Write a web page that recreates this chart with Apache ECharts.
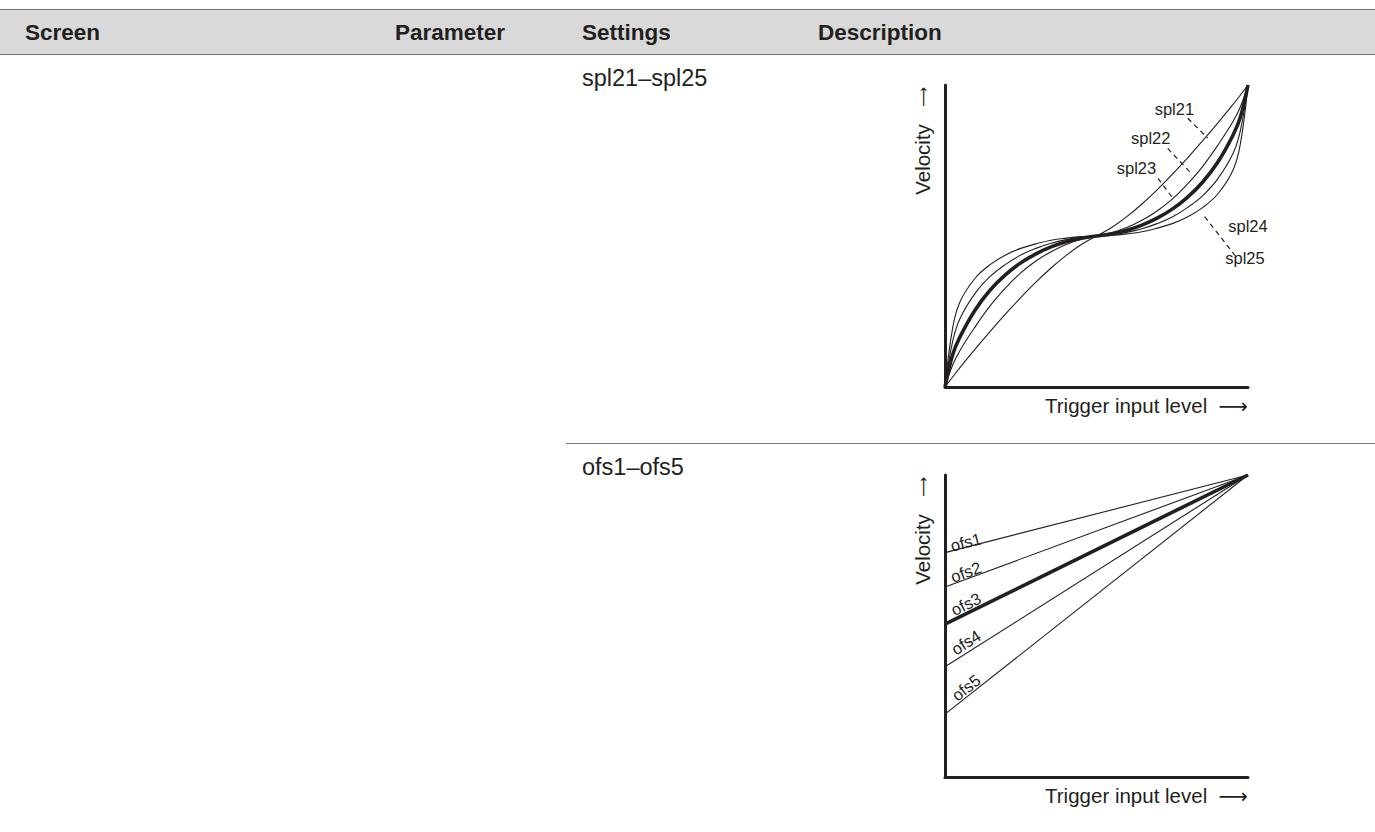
<!DOCTYPE html>
<html>
<head>
<meta charset="utf-8">
<script src="https://cdn.jsdelivr.net/npm/echarts@6/dist/echarts.min.js"></script>
<style>
  html, body { margin: 0; padding: 0; background: #fff; }
  body { width: 1375px; height: 832px; position: relative; overflow: hidden; font-family: 'Liberation Sans', Arial, sans-serif; color: #231f20; }
  #chart { position: absolute; left: 0; top: 0; width: 1375px; height: 832px; }
  .head { position: absolute; left: 0; top: 9px; width: 1375px; height: 44px; background: #d9d9d9; border-top: 1.5px solid #6f6f6f; border-bottom: 1.5px solid #6f6f6f; }
  .th { position: absolute; top: 21.5px; font-weight: bold; font-size: 22.5px; line-height: 22.5px; }
  .td { position: absolute; left: 582px; font-size: 23.5px; line-height: 23.5px; }
  .rule { position: absolute; left: 566px; width: 809px; top: 443px; border-top: 1.5px solid #7a7a7a; }
</style>
</head>
<body>
<div id="chart"></div>
<div class="head"></div>
<div class="th" style="left:25px">Screen</div>
<div class="th" style="left:395px">Parameter</div>
<div class="th" style="left:582px">Settings</div>
<div class="th" style="left:818px">Description</div>
<div class="td" style="top:66.5px">spl21–spl25</div>
<div class="rule"></div>
<div class="td" style="top:455.5px">ofs1–ofs5</div>

<script>
const ink = '#231f20'
const fontFamily = "'Liberation Sans', 'DejaVu Sans', Arial, sans-serif"

// trigger input level (x) shared by the spl curves, % of range
const triggerLevel = [0, 2.5, 5, 10, 15, 20, 25, 30, 35, 40, 45, 50, 55, 60, 65, 70, 75, 80, 85, 90, 95, 97.5, 100]

// velocity (y) for each spl curve
const spl21 = [0, 3.3, 6.5, 12.6, 18.5, 24.2, 29.6, 34.7, 39.4, 43.6, 47.2, 50, 52.8, 56.4, 60.6, 65.3, 70.4, 75.8, 81.5, 87.4, 93.5, 96.7, 100]
const spl22 = [0, 7.2, 12.2, 20.0, 27.0, 32.8, 37.8, 41.7, 44.8, 47.2, 48.9, 50, 51.1, 52.8, 55.2, 58.3, 62.2, 67.2, 73.0, 80.0, 87.8, 92.8, 100]
const spl23 = [0, 10.6, 16.7, 25.6, 32.2, 37.2, 41.1, 44.1, 46.4, 48.1, 49.3, 50, 50.7, 51.9, 53.6, 55.9, 58.9, 62.8, 67.8, 74.4, 83.3, 89.4, 100]
const spl24 = [0, 15.0, 22.8, 31.1, 36.7, 40.6, 43.7, 45.9, 47.6, 48.8, 49.6, 50, 50.4, 51.2, 52.4, 54.1, 56.3, 59.4, 63.3, 68.9, 77.2, 85.0, 100]
const spl25 = [0, 19.4, 28.3, 36.1, 40.6, 43.7, 45.9, 47.4, 48.6, 49.3, 49.8, 50, 50.2, 50.7, 51.4, 52.6, 54.1, 56.3, 59.4, 63.9, 71.7, 80.6, 100]

// offset lines: trigger level 0 and 100
const ofsLevel = [0, 100]
const ofs1 = [74.3, 100]
const ofs2 = [62.9, 100]
const ofs3 = [50.6, 100]
const ofs4 = [36.5, 100]
const ofs5 = [20.8, 100]

const splNames = ['spl21', 'spl22', 'spl23', 'spl24', 'spl25']
const ofsNames = ['ofs1', 'ofs2', 'ofs3', 'ofs4', 'ofs5']

// annotation anchors, in axis units
const splLabelAt = [[75.7, 92.0], [67.9, 82.3], [63.2, 72.4], [100.0, 53.3], [99.0, 42.7]]
const splLeaders = [
  [[80.1, 89.0], [86.7, 82.4]],
  [[73.5, 79.0], [81.2, 70.8]],
  [[70.3, 69.1], [75.2, 62.5]],
  [[89.9, 67.4], [100.1, 57.5]],
  [[85.7, 56.4], [95.6, 43.7]]
]
const ofsLabelAt = [[6.9, 77.8], [6.9, 67.9], [6.9, 57.3], [6.9, 44.6], [6.9, 29.6]]

const grids = [
  { left: 945, top: 85, width: 303, height: 302 },
  { left: 945, top: 475, width: 303, height: 302 }
]

const axisBase = {
  type: 'value',
  min: 0,
  max: 100,
  axisTick: { show: false },
  axisLabel: { show: false },
  splitLine: { show: false },
  axisLine: { show: true, onZero: false, lineStyle: { color: ink, width: 3 } }
}

const xAxes = grids.map((g, i) => ({
  ...axisBase,
  gridIndex: i,
  name: 'Trigger input level\u00A0\u00A0\u27F6',
  nameLocation: 'end',
  nameGap: 0,
  nameTextStyle: { color: ink, fontSize: 20.5, fontFamily, align: 'right', verticalAlign: 'top', padding: [8, 0, 0, 0] }
}))

const yAxes = grids.map((g, i) => ({
  ...axisBase,
  gridIndex: i,
  name: '{t|Velocity\u00A0\u00A0\u00A0}{a|\u27F6}',
  nameLocation: 'end',
  nameRotate: 90,
  nameGap: -2,
  nameTextStyle: {
    color: ink, fontSize: 20.5, fontFamily, align: 'right', verticalAlign: 'bottom', padding: [0, 0, 12, 0],
    rich: {
      t: { color: ink, fontSize: 20.5, fontFamily },
      a: { color: ink, fontSize: 14, fontFamily }
    }
  }
}))

const splData = [spl21, spl22, spl23, spl24, spl25]
const ofsData = [ofs1, ofs2, ofs3, ofs4, ofs5]

const smallLabel = { color: ink, fontSize: 16.5, fontFamily }

const splSeries = splData.map((vals, i) => ({
  name: splNames[i],
  type: 'line',
  xAxisIndex: 0,
  yAxisIndex: 0,
  smooth: 0.4,
  showSymbol: false,
  silent: true,
  z: i === 2 ? 3 : 2,
  lineStyle: { color: ink, width: i === 2 ? 3.6 : 1.1 },
  data: triggerLevel.map((x, k) => [x, vals[k]]),
  markLine: {
    silent: true,
    symbol: ['none', 'none'],
    label: { show: false },
    lineStyle: { color: ink, width: 1.2, type: [5, 4] },
    data: [[{ coord: splLeaders[i][0] }, { coord: splLeaders[i][1] }]]
  },
  markPoint: {
    silent: true,
    symbolSize: 0,
    label: { ...smallLabel, show: true, position: 'inside', formatter: splNames[i] },
    data: [{ coord: splLabelAt[i] }]
  }
}))

// tilt the ofs labels along their lines
const g2 = grids[1]
const ofsSeries = ofsData.map((vals, i) => {
  const rise = (vals[1] - vals[0]) / 100 * g2.height
  const run = (ofsLevel[1] - ofsLevel[0]) / 100 * g2.width
  const angle = Math.atan2(rise, run) * 180 / Math.PI
  return {
    name: ofsNames[i],
    type: 'line',
    xAxisIndex: 1,
    yAxisIndex: 1,
    showSymbol: false,
    silent: true,
    z: i === 2 ? 3 : 2,
    lineStyle: { color: ink, width: i === 2 ? 3.6 : 1.1 },
    data: ofsLevel.map((x, k) => [x, vals[k]]),
    markPoint: {
      silent: true,
      symbolSize: 0,
      label: { ...smallLabel, show: true, position: 'inside', rotate: angle, formatter: ofsNames[i] },
      data: [{ coord: ofsLabelAt[i] }]
    }
  }
})

const chart = echarts.init(document.getElementById('chart'), null, { renderer: 'svg' })
chart.setOption({
  animation: false,
  grid: grids,
  xAxis: xAxes,
  yAxis: yAxes,
  series: [...splSeries, ...ofsSeries]
})
</script>
</body>
</html>
